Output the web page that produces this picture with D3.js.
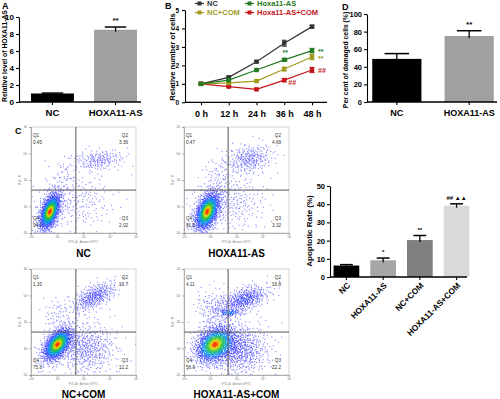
<!DOCTYPE html>
<html>
<head>
<meta charset="utf-8">
<script src="https://cdn.jsdelivr.net/npm/d3@7"></script>
<style>
  body { margin: 0; background: #fff; }
  svg { display: block; font-family: Arial, "Liberation Sans", sans-serif; }
</style>
</head>
<body>
<svg id="fig" width="500" height="399"></svg>
<script>
// ---- panel A : relative level of HOXA11-AS
const aGroups = ['NC', 'HOXA11-AS'];
const aValues = [1.0, 8.5];
const aErrors = [0.05, 0.32];
const aSig = ['', '**'];

// ---- panel B : relative number of cells
const bTimes = ['0 h', '12 h', '24 h', '36 h', '48 h'];
const bNames = ['NC', 'Hoxa11-AS', 'NC+COM', 'Hoxa11-AS+COM'];
const bNC = [1, 1.35, 2.2, 3.2, 4.1];
const bNCErr = [0.02, 0.06, 0.05, 0.16, 0.07];
const bHox = [1, 1.2, 1.75, 2.3, 2.8];
const bHoxErr = [0.02, 0.04, 0.05, 0.08, 0.12];
const bCom = [1, 1.05, 1.15, 1.8, 2.45];
const bComErr = [0.02, 0.04, 0.07, 0.1, 0.14];
const bHoxCom = [1, 0.85, 0.7, 1.2, 1.75];
const bHoxComErr = [0.02, 0.04, 0.03, 0.09, 0.14];
const bSig36 = ['', '**', '**', '##'];
const bSig48 = ['', '**', '**', '##'];

// ---- panel D : per cent of damaged cells
const dGroups = ['NC', 'HOXA11-AS'];
const dValues = [49, 75];
const dErrors = [6, 6];
const dSig = ['', '**'];

// ---- panel C : flow cytometry quadrant percentages (Q1, Q2, Q3, Q4)
const cNames = ['NC', 'HOXA11-AS', 'NC+COM', 'HOXA11-AS+COM'];
const cQ1 = ['0.45', '0.47', '1.30', '4.11'];
const cQ2 = ['3.36', '4.69', '10.7', '16.8'];
const cQ3 = ['2.02', '3.32', '12.2', '22.2'];
const cQ4 = ['94.2', '91.5', '75.8', '56.9'];
// cell populations seen on each dot plot: [x, y, sdX, sdY, corr, count] in log decades
const cClustersNC = [[0.72, 0.8, 0.22, 0.38, 0.5, 950], [2.6, 2.75, 0.5, 0.2, 0.2, 170], [1.7, 1.2, 0.75, 0.6, 0, 230], [1.3, 2.2, 0.3, 0.4, 0.3, 40]];
const cClustersHox = [[0.88, 0.8, 0.26, 0.4, 0.45, 1000], [2.5, 2.8, 0.45, 0.28, 0.2, 240], [1.8, 1.2, 0.7, 0.6, 0, 280], [1.3, 2.3, 0.3, 0.4, 0.3, 50]];
const cClustersCom = [[1.0, 1.15, 0.3, 0.34, 0.5, 950], [2.4, 2.95, 0.45, 0.3, 0.6, 320], [2.1, 1.0, 0.6, 0.5, 0, 480], [1.0, 2.3, 0.3, 0.3, 0, 50]];
const cClustersHoxCom = [[1.15, 1.15, 0.4, 0.38, 0.3, 1000], [2.3, 2.85, 0.5, 0.28, 0.5, 360], [1.75, 2.35, 0.25, 0.07, 0, 60], [2.1, 0.95, 0.6, 0.5, 0, 580], [1.1, 2.5, 0.35, 0.4, 0, 120]];
const cGateX = [1.71, 1.68, 1.71, 1.68];
const cGateY = [1.62, 1.62, 1.62, 1.62];
const cTicks = ['-10\u00b2', '10\u00b2', '10\u00b3', '10\u2074', '10\u2075'];

// ---- apoptotic rate
const eGroups = ['NC', 'HOXA11-AS', 'NC+COM', 'HOXA11-AS+COM'];
const eValues = [6.3, 9.2, 20.3, 39.2];
const eErrors = [0.5, 1.2, 2.5, 1.0];
const eSig = ['', '*', '**', '## \u25b2\u25b2'];

const svg = d3.select('#fig');
const bold = '700';

function panelLetter(t, x, y) {
  svg.append('text').attr('x', x).attr('y', y).attr('font-size', 9).attr('font-weight', bold).text(t);
}

function styleAxis(g, size) {
  g.selectAll('path,line').attr('stroke', '#000').attr('stroke-width', 1.1);
  g.selectAll('text').attr('font-size', size).attr('font-weight', bold).attr('fill', '#000')
    .attr('font-family', 'Arial, "Liberation Sans", sans-serif');
}

// generic GraphPad-like bar chart
function barChart(o) {
  const y = d3.scaleLinear().domain(o.domain).range([o.bottom, o.top]);
  const x = d3.scaleBand().domain(o.groups).range([o.x0, o.x1]).paddingInner(o.padIn).paddingOuter(o.padOut);
  const g = svg.append('g');

  const ya = g.append('g').attr('transform', `translate(${o.axisX},0)`)
    .call(d3.axisLeft(y).tickValues(o.ticks).tickSize(3).tickSizeOuter(0).tickPadding(2));
  styleAxis(ya, o.tickFont);

  // error bars (upper only, line runs into the bar)
  const cap = x.bandwidth() * 0.25;
  o.groups.forEach((gr, i) => {
    const cx = x(gr) + x.bandwidth() / 2;
    g.append('line').attr('x1', cx).attr('x2', cx)
      .attr('y1', y(o.values[i] - o.errors[i])).attr('y2', y(o.values[i] + o.errors[i]))
      .attr('stroke', '#000').attr('stroke-width', 1.3);
    g.append('line').attr('x1', cx - cap).attr('x2', cx + cap)
      .attr('y1', y(o.values[i] + o.errors[i])).attr('y2', y(o.values[i] + o.errors[i]))
      .attr('stroke', '#000').attr('stroke-width', 1.5);
  });

  g.selectAll('.bar').data(o.groups).enter().append('rect')
    .attr('x', d => x(d))
    .attr('width', x.bandwidth())
    .attr('y', (d, i) => y(o.values[i]))
    .attr('height', (d, i) => y(0) - y(o.values[i]))
    .attr('fill', (d, i) => o.colors[i]);

  o.groups.forEach((gr, i) => {
    const cx = x(gr) + x.bandwidth() / 2;
    g.append('line').attr('x1', cx).attr('x2', cx)
      .attr('y1', y(o.values[i]) + 2).attr('y2', y(o.values[i]))
      .attr('stroke', '#000').attr('stroke-width', 1.3);
    if (o.sig[i]) {
      g.append('text').attr('x', cx).attr('y', y(o.values[i] + o.errors[i]) - o.sigGap)
        .attr('text-anchor', 'middle').attr('font-size', o.sigFont).attr('font-weight', bold)
        .text(o.sig[i]);
    }
  });

  const xa = g.append('g').attr('transform', `translate(0,${o.bottom})`)
    .call(d3.axisBottom(x).tickSize(3).tickSizeOuter(0).tickPadding(o.labPad));
  xa.select('.domain').remove();
  styleAxis(xa, o.labFont);
  g.append('line').attr('x1', o.axisX).attr('x2', o.lineEnd).attr('y1', o.bottom).attr('y2', o.bottom)
    .attr('stroke', '#000').attr('stroke-width', 1.3);
  if (o.rotate) {
    xa.selectAll('text').attr('text-anchor', 'end').attr('dy', '0.3em')
      .attr('transform', 'rotate(-45)').attr('dx', '-0.4em');
  }

  g.append('text')
    .attr('transform', `translate(${o.labelX},${o.labelY}) rotate(-90)`)
    .attr('text-anchor', 'middle').attr('font-size', o.titleFont).attr('font-weight', bold)
    .attr('dy', '0.35em').text(o.title);
}

// ---------- A
panelLetter('A', 2, 9);
barChart({
  groups: aGroups, values: aValues, errors: aErrors, sig: aSig,
  colors: ['#000000', '#a0a0a0'],
  domain: [0, 10], ticks: [0, 2, 4, 6, 8, 10], top: 17, bottom: 102,
  x0: 19, x1: 149, padIn: 0.32, padOut: 0.19, axisX: 19, lineEnd: 141,
  tickFont: 8, labFont: 9.5, labPad: 4, sigFont: 8, sigGap: 4,
  title: 'Relative level of HOXA11-AS', titleFont: 6.8, labelX: 5, labelY: 56
});

// ---------- D
panelLetter('D', 342, 10);
barChart({
  groups: dGroups, values: dValues, errors: dErrors, sig: dSig,
  colors: ['#000000', '#a0a0a0'],
  domain: [0, 100], ticks: [0, 20, 40, 60, 80, 100], top: 14, bottom: 102,
  x0: 365, x1: 501, padIn: 0.32, padOut: 0.1, axisX: 367, lineEnd: 497,
  tickFont: 7.5, labFont: 9, labPad: 5, sigFont: 8, sigGap: 4,
  title: 'Per cent of damaged cells (%)', titleFont: 6.8, labelX: 346, labelY: 60
});

// ---------- apoptotic rate
barChart({
  groups: eGroups, values: eValues, errors: eErrors, sig: eSig,
  colors: ['#000000', '#a6a6a6', '#7f7f7f', '#d9d9d9'],
  domain: [0, 50], ticks: [0, 10, 20, 30, 40, 50], top: 186, bottom: 277,
  x0: 331, x1: 472, padIn: 0.3, padOut: 0.07, axisX: 330, lineEnd: 467,
  tickFont: 7.5, labFont: 8.3, labPad: 4, sigFont: 6, sigGap: 4, rotate: true,
  title: 'Apoptotic Rate (%)', titleFont: 8, labelX: 309, labelY: 231
});

// ---------- B
panelLetter('B', 165, 9);
{
  const y = d3.scaleLinear().domain([0, 5]).range([102.3, 10]);
  const x = d3.scalePoint().domain(bTimes).range([201, 312]);
  const g = svg.append('g');
  const ya = g.append('g').attr('transform', 'translate(185,0)')
    .call(d3.axisLeft(y).ticks(5).tickSize(3).tickSizeOuter(0).tickPadding(3));
  styleAxis(ya, 6.5);
  const xa = g.append('g').attr('transform', 'translate(0,102.3)')
    .call(d3.axisBottom(x).tickSize(3).tickSizeOuter(0).tickPadding(5));
  xa.select('.domain').remove();
  styleAxis(xa, 9);
  g.append('line').attr('x1', 185).attr('x2', 327).attr('y1', 102.3).attr('y2', 102.3)
    .attr('stroke', '#000').attr('stroke-width', 1.3);
  g.append('text').attr('transform', 'translate(172,57) rotate(-90)')
    .attr('text-anchor', 'middle').attr('dy', '0.35em')
    .attr('font-size', 7.6).attr('font-weight', bold).text('Relative number of cells');

  const colors = ['#333333', '#237a23', '#a09b1c', '#c4161c'];
  const vals = [bNC, bHox, bCom, bHoxCom];
  const errs = [bNCErr, bHoxErr, bComErr, bHoxComErr];
  const line = d3.line().x((d, i) => x(bTimes[i])).y(d => y(d));

  [0, 3, 2, 1].forEach(s => {
    g.append('path').attr('d', line(vals[s])).attr('fill', 'none')
      .attr('stroke', colors[s]).attr('stroke-width', 1.2);
    vals[s].forEach((v, i) => {
      const cx = x(bTimes[i]);
      g.append('line').attr('x1', cx).attr('x2', cx)
        .attr('y1', y(v - errs[s][i])).attr('y2', y(v + errs[s][i]))
        .attr('stroke', colors[s]).attr('stroke-width', 1.1);
      [v - errs[s][i], v + errs[s][i]].forEach(e => {
        g.append('line').attr('x1', cx - 2.5).attr('x2', cx + 2.5).attr('y1', y(e)).attr('y2', y(e))
          .attr('stroke', colors[s]).attr('stroke-width', 1.1);
      });
      g.append('rect').attr('x', cx - 2.2).attr('y', y(v) - 2.2).attr('width', 4.4).attr('height', 4.4)
        .attr('fill', colors[s]);
    });
    if (bSig36[s]) {
      const right = s === 3;
      g.append('text')
        .attr('x', x(bTimes[3]) + (right ? 4 : 1))
        .attr('y', y(vals[s][3]) + (right ? 5 : -5))
        .attr('text-anchor', right ? 'start' : 'middle')
        .attr('font-size', 7).attr('font-weight', bold).attr('fill', colors[s]).text(bSig36[s]);
    }
    if (bSig48[s]) {
      g.append('text').attr('x', x(bTimes[4]) + 6).attr('y', y(vals[s][4]) + 3.5)
        .attr('font-size', 7).attr('font-weight', bold).attr('fill', colors[s]).text(bSig48[s]);
    }
  });

  // legend
  bNames.forEach((n, i) => {
    const lx = i % 2 === 0 ? 195 : 245;
    const ly = i < 2 ? 3.5 : 12.5;
    g.append('line').attr('x1', lx).attr('x2', lx + 9).attr('y1', ly).attr('y2', ly)
      .attr('stroke', colors[i]).attr('stroke-width', 1.2);
    g.append('rect').attr('x', lx + 2.5).attr('y', ly - 2).attr('width', 4).attr('height', 4).attr('fill', colors[i]);
    g.append('text').attr('x', lx + 12).attr('y', ly).attr('dy', '0.35em')
      .attr('font-size', 7.5).attr('font-weight', bold).attr('fill', colors[i]).text(n);
  });
}

// ---------- C : flow cytometry dot plots
panelLetter('C', 15, 134);

function halton(i, b) {
  let f = 1, r = 0;
  while (i > 0) { f /= b; r += f * (i % b); i = Math.floor(i / b); }
  return r;
}

const dens = d3.scaleLinear()
  .domain([0, 0.35, 0.6, 0.82, 0.94, 0.995])
  .range(['#8c8cff', '#3a3aff', '#0094f0', '#25c23a', '#e6df00', '#ff3000'])
  .clamp(true);

function dotPlot(k, clusters, left, top) {
  const W = 105, H = 106;
  const x = d3.scaleLinear().domain([0, 4]).range([left, left + W]);
  const y = d3.scaleLinear().domain([0, 4]).range([top + H, top]);
  const g = svg.append('g');
  const clipId = 'clip' + k;
  g.append('clipPath').attr('id', clipId).append('rect')
    .attr('x', left).attr('y', top).attr('width', W).attr('height', H);

  // points from the populations (quasi-random normal placement)
  const pts = [];
  let idx = 1 + k * 7919;
  clusters.forEach(c => {
    for (let j = 0; j < c[5]; j++, idx++) {
      const u1 = Math.max(halton(idx, 2), 1e-6), u2 = halton(idx, 3);
      const rr = Math.sqrt(-2 * Math.log(u1));
      const z1 = rr * Math.cos(2 * Math.PI * u2), z2 = rr * Math.sin(2 * Math.PI * u2);
      pts.push([c[0] + c[2] * z1, c[1] + c[3] * (c[4] * z1 + Math.sqrt(1 - c[4] * c[4]) * z2)]);
    }
  });
  pts.forEach(p => {
    let d = 0;
    clusters.forEach(c => {
      const dx = (p[0] - c[0]) / c[2], dy = (p[1] - c[1]) / c[3], r = c[4];
      const q = (dx * dx - 2 * r * dx * dy + dy * dy) / (1 - r * r);
      d += c[5] / (c[2] * c[3] * Math.sqrt(1 - r * r)) * Math.exp(-q / 2);
    });
    p.push(d);
  });
  const dmax = d3.max(pts, p => p[2]);
  pts.sort((a, b) => a[2] - b[2]);

  g.append('rect').attr('x', left).attr('y', top).attr('width', W).attr('height', H)
    .attr('fill', '#fff').attr('stroke', '#c8c8c8').attr('stroke-width', 0.8);

  g.append('g').attr('clip-path', `url(#${clipId})`)
    .selectAll('rect').data(pts).enter().append('rect')
    .attr('x', p => x(p[0]) - 0.55).attr('y', p => y(p[1]) - 0.55)
    .attr('width', 1.1).attr('height', 1.1)
    .attr('fill', p => dens(p[2] / dmax));

  // quadrant gates
  g.append('line').attr('x1', x(cGateX[k])).attr('x2', x(cGateX[k])).attr('y1', top).attr('y2', top + H)
    .attr('stroke', '#555').attr('stroke-width', 1);
  g.append('line').attr('x1', left).attr('x2', left + W).attr('y1', y(cGateY[k])).attr('y2', y(cGateY[k]))
    .attr('stroke', '#555').attr('stroke-width', 1);

  // tiny axes
  const ax = g.append('g').attr('transform', `translate(0,${top + H})`)
    .call(d3.axisBottom(x).ticks(4).tickSize(2).tickPadding(1).tickFormat((d, i) => cTicks[i]));
  const ay = g.append('g').attr('transform', `translate(${left},0)`)
    .call(d3.axisLeft(y).ticks(4).tickSize(2).tickPadding(1).tickFormat((d, i) => cTicks[i]));
  [ax, ay].forEach(a => {
    a.selectAll('path,line').attr('stroke', '#888').attr('stroke-width', 0.6);
    a.selectAll('text').attr('font-size', 3).attr('fill', '#666');
  });
  g.append('text').attr('x', left + W / 2).attr('y', top + H + 10).attr('text-anchor', 'middle')
    .attr('font-size', 2.6).attr('fill', '#777').text('FITC-A :: Annexin V-FITC');
  g.append('text').attr('transform', `translate(${left - 10},${top + H / 2}) rotate(-90)`)
    .attr('text-anchor', 'middle').attr('font-size', 2.6).attr('fill', '#777').text('PI-A :: PI');

  // quadrant labels
  const q = (t, tx, ty, anchor) => g.append('text').attr('x', tx).attr('y', ty)
    .attr('text-anchor', anchor).attr('font-size', 4.6).attr('fill', '#333').text(t);
  q('Q1', left + 2, top + 10, 'start');
  q(cQ1[k], left + 2, top + 17, 'start');
  q('Q2', left + W - 8, top + 10, 'end');
  q(cQ2[k], left + W - 8, top + 17, 'end');
  q('Q4', left + 2, top + 93, 'start');
  q(cQ4[k], left + 2, top + 100, 'start');
  q('Q3', left + W - 8, top + 93, 'end');
  q(cQ3[k], left + W - 8, top + 100, 'end');

  g.append('text').attr('x', left + W / 2).attr('y', top + H + (k > 1 ? 22.5 : 24))
    .attr('text-anchor', 'middle')
    .attr('font-size', 10).attr('font-weight', bold).text(cNames[k]);
}

dotPlot(0, cClustersNC, 31, 127);
dotPlot(1, cClustersHox, 184, 127);
dotPlot(2, cClustersCom, 31, 269);
dotPlot(3, cClustersHoxCom, 184, 269);
</script>
</body>
</html>
